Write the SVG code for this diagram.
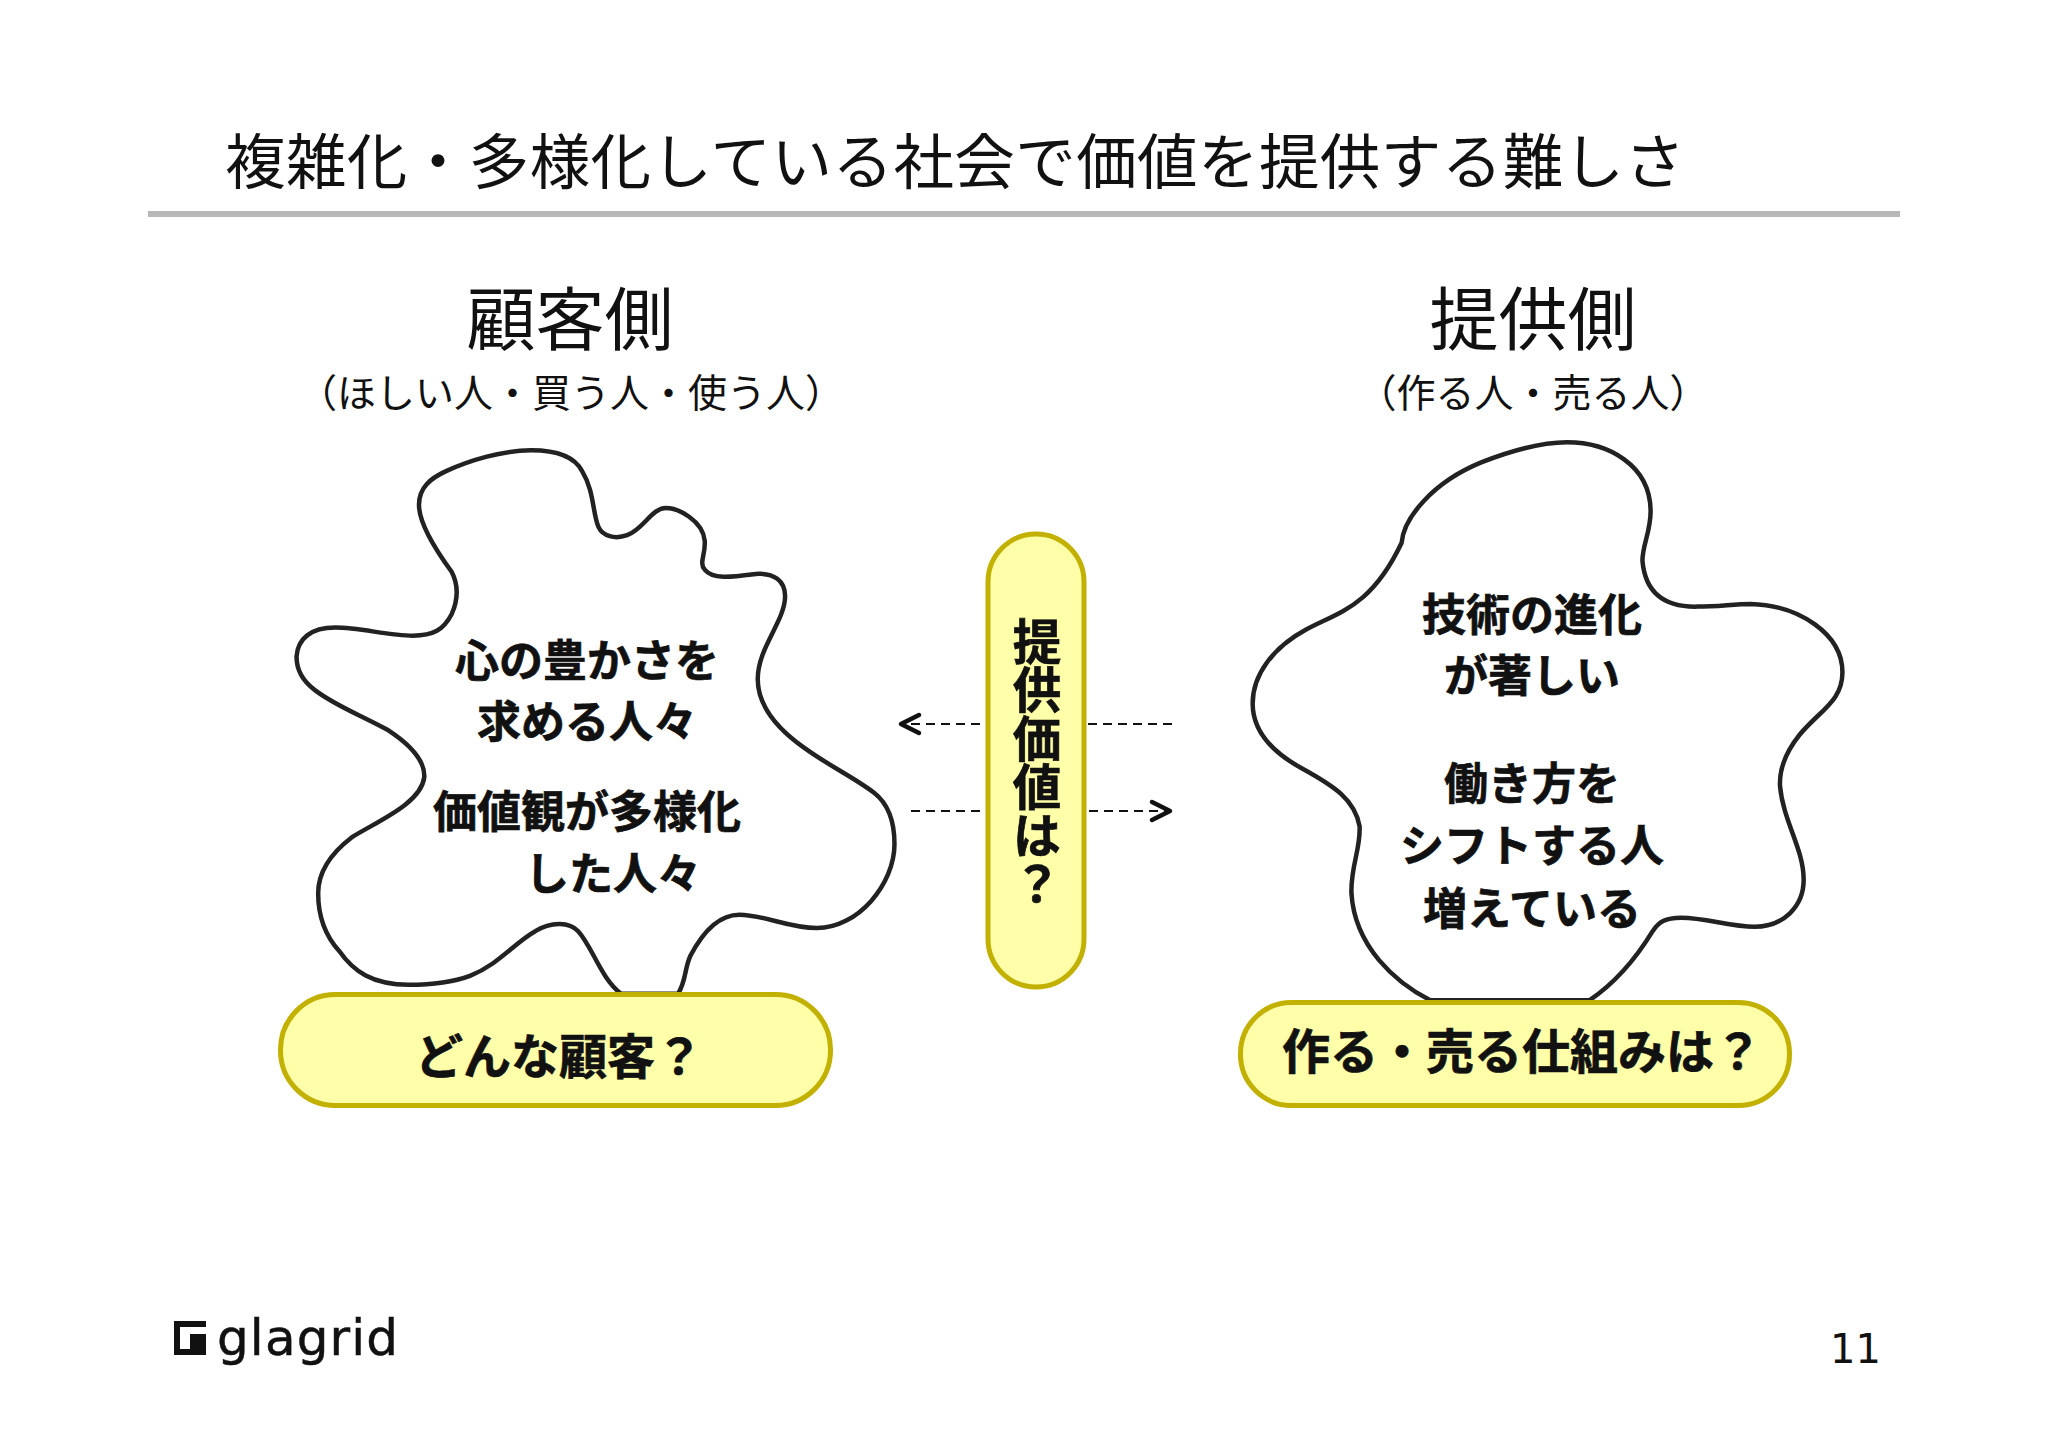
<svg xmlns="http://www.w3.org/2000/svg" width="2048" height="1447" viewBox="0 0 2048 1447">
<style>
text{font-family:"Noto Sans CJK JP","Noto Sans",sans-serif;fill:#111}
.title{font-size:60.5px}
.head{font-size:69px;text-anchor:middle}
.sub{font-size:39px;text-anchor:middle}
.b{font-size:44px;font-weight:700;text-anchor:middle;stroke:#111;stroke-width:.7px}
.p{font-size:48px;font-weight:700;text-anchor:middle;stroke:#111;stroke-width:.7px}
.blob{fill:none;stroke:#222;stroke-width:4.500;vector-effect:non-scaling-stroke}
.pill{fill:#ffffa9;stroke:#c2b100;stroke-width:5}
.dash{fill:none;stroke:#111;stroke-width:2;stroke-dasharray:9 6}
</style>
<defs>
<marker id="chev" markerUnits="userSpaceOnUse" markerWidth="28" markerHeight="28" refX="23" refY="14" orient="auto-start-reverse" viewBox="0 0 28 28"><path d="M5 5L23 14L5 23" fill="none" stroke="#111" stroke-width="4.500" stroke-linecap="round" stroke-linejoin="round"/></marker>
</defs>
<rect width="2048" height="1447" fill="#fff"/>
<g id="header">
<text class="title" x="225" y="184" textLength="1460">複雑化・多様化している社会で価値を提供する難しさ</text>
<rect x="148" y="211" width="1752" height="6" fill="#b7b7b7"/>
</g>
<g id="customer-heading">
<text class="head" x="570" y="345">顧客側</text>
<text class="sub" x="571" y="407">（ほしい人・買う人・使う人）</text>
</g>
<g id="provider-heading">
<text class="head" x="1533" y="345">提供側</text>
<text class="sub" x="1533" y="407">（作る人・売る人）</text>
</g>
<g id="connectors">
<path class="dash" d="M980 724H901" marker-end="url(#chev)"/>
<path class="dash" d="M1088 724H1173"/>
<path class="dash" d="M911 811H981"/>
<path class="dash" d="M1089 811H1170" marker-end="url(#chev)"/>
</g>
<g id="customer-blob">
<path class="blob" transform="translate(270 420) scale(.40816 .44643)" d="M445 340C405 290 365 230 365 190C365 150 395 130 430 115C490 90 570 68 640 68C700 68 745 80 765 115C795 160 790 210 805 240C815 260 845 268 875 258C915 245 935 197 970 197C1000 197 1060 225 1065 270C1068 300 1050 320 1065 335C1085 358 1130 352 1190 345C1235 342 1262 360 1262 395C1262 450 1195 510 1195 580C1195 640 1240 690 1310 735C1370 775 1430 800 1480 835C1515 860 1530 900 1530 950C1530 1040 1440 1138 1340 1138C1270 1138 1210 1108 1150 1108C1090 1108 1050 1165 1030 1200C1015 1230 1020 1255 1000 1285L860 1285C810 1250 790 1180 755 1145C735 1125 690 1122 650 1145C600 1170 560 1220 490 1245C440 1262 380 1265 340 1265C250 1265 205 1235 170 1190C130 1150 118 1100 118 1060C118 1010 150 970 200 935C260 900 370 860 378 800C380 760 340 725 290 695C220 660 160 640 110 605C80 585 65 560 65 530C68 490 100 465 160 465C220 465 290 483 350 483C400 483 425 470 445 435C462 400 462 370 445 340Z"/>
<text class="b" x="587" y="677">心の豊かさを</text>
<text class="b" x="587" y="738">求める人々</text>
<text class="b" x="587" y="828">価値観が多様化</text>
<text class="b" x="613" y="890">した人々</text>
</g>
<g id="provider-blob">
<path class="blob" transform="translate(1220 420) scale(.40816 .44643)" d="M445 275C450 220 520 140 640 95C710 70 780 50 850 50C950 50 1055 100 1055 205C1055 250 1035 280 1035 315C1040 370 1070 420 1170 418C1220 418 1260 412 1300 412C1420 415 1525 480 1525 565C1525 630 1470 650 1420 705C1385 745 1370 780 1372 820C1380 900 1430 960 1430 1030C1430 1090 1380 1135 1310 1135C1250 1135 1190 1115 1130 1115C1090 1115 1075 1125 1060 1145C1020 1205 970 1260 905 1300L515 1300C430 1260 330 1180 322 1060C320 1000 345 960 342 910C330 850 280 820 200 780C130 745 80 700 80 635C80 570 130 510 210 470C290 430 370 420 445 275Z"/>
<text class="b" x="1532" y="631">技術の進化</text>
<text class="b" x="1532" y="692">が著しい</text>
<text class="b" x="1532" y="800">働き方を</text>
<text class="b" x="1532" y="862">シフトする人</text>
<text class="b" x="1532" y="925">増えている</text>
</g>
<g id="customer-pill">
<rect class="pill" x="280.500" y="994.500" width="550" height="111" rx="55"/>
<text class="p" x="559" y="1074">どんな顧客？</text>
</g>
<g id="provider-pill">
<rect class="pill" x="1240.500" y="1002.500" width="549" height="103" rx="51"/>
<text class="p" x="1522" y="1069">作る・売る仕組みは？</text>
</g>
<g id="value-pill">
<rect class="pill" x="988" y="534" width="96" height="453" rx="48"/>
<text x="1037" y="617" style="font-size:48.500px;font-weight:700;stroke:#111;stroke-width:.7px;writing-mode:vertical-rl;dominant-baseline:central">提供価値は？</text>
</g>
<g id="logo">
<path d="M174 1321H206V1327H180V1349H190V1334H206V1355H174Z" fill="#111"/>
<text x="217" y="1355" textLength="181" style="font-family:'DejaVu Sans',sans-serif;font-size:50px;stroke:#111;stroke-width:.5px">glagrid</text>
</g>
<text id="page" x="1830" y="1363" style="font-family:'DejaVu Sans',sans-serif;font-size:40px">11</text>
</svg>
